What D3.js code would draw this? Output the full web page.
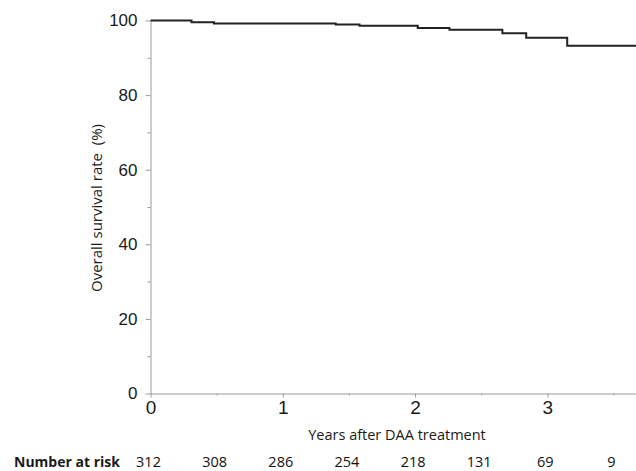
<!DOCTYPE html>
<html lang="en">
<head>
   <meta charset="utf-8">
   <title>Overall survival</title>
   <style type="text/css">
       body{
           margin: 0;
           background: white;
       }
       .axis path, .axis line{
           stroke: #9a9a9a;
           stroke-width: 1px;
       }
       .axis text{
           font-family: "Liberation Sans", Arial, sans-serif;
           fill: #1a1a1a;
       }
       .curve{
           fill: none;
           stroke: #222;
           stroke-width: 2px;
       }
       .label{
           font-family: "Open Sans", sans-serif;
           font-size: 14.5px;
           fill: #1a1a1a;
           white-space: pre;
       }
       .risk{
           font-family: "Open Sans", sans-serif;
           font-size: 14.5px;
           fill: #111;
           text-anchor: middle;
       }
   </style>
</head>
<body>
<script src="https://d3js.org/d3.v7.min.js" charset="utf-8"></script>
<script>
    // step times (years) and survival (%)
    var eventTimes = [0, 0.31, 0.48, 1.40, 1.58, 2.02, 2.26, 2.66, 2.84, 3.15]
    var survival = [100, 99.5, 99.2, 98.9, 98.6, 98.0, 97.5, 96.6, 95.4, 93.2]
    var lastTime = 3.7

    var xTicks = [0, 1, 2, 3]
    var xMinor = [0.5, 1.5, 2.5, 3.5]
    var yTicks = [0, 20, 40, 60, 80, 100]
    var yMinor = [10, 30, 50, 70, 90]

    var riskTimes = [0, 0.5, 1, 1.5, 2, 2.5, 3, 3.5]
    var riskCounts = [312, 308, 286, 254, 218, 131, 69, 9]

    var width = 636, height = 471

    var svg = d3.select('body')
        .append('svg')
            .attr('width', width)
            .attr('height', height)

    var x = d3.scaleLinear().domain([0, 3.67]).range([150.5, 636])
    var y = d3.scaleLinear().domain([0, 100]).range([393.5, 20.5])

    // y axis
    svg.append('g')
        .attr('class', 'axis')
        .attr('transform', 'translate(150.5,0)')
        .call(d3.axisLeft(y).tickValues(yMinor).tickSize(3).tickFormat(''))
        .call(function(g) { g.select('.domain').remove() })

    svg.append('g')
        .attr('class', 'axis')
        .attr('transform', 'translate(150.5,0)')
        .call(d3.axisLeft(y).tickValues(yTicks).tickSize(5).tickSizeOuter(0).tickPadding(8))
        .selectAll('text')
            .style('font-size', '17px')

    // x axis
    svg.append('g')
        .attr('class', 'axis')
        .attr('transform', 'translate(0,393.5)')
        .call(d3.axisBottom(x).tickValues(xMinor).tickSize(2).tickFormat(''))
        .call(function(g) { g.select('.domain').remove() })

    svg.append('g')
        .attr('class', 'axis')
        .attr('transform', 'translate(0,393.5)')
        .call(d3.axisBottom(x).tickValues(xTicks).tickSize(4).tickSizeOuter(0).tickPadding(3).tickFormat(d3.format('d')))
        .selectAll('text')
            .style('font-size', '19px')

    // survival step curve
    var pts = eventTimes.map(function(t, i) { return [t, survival[i]] })
    pts.push([lastTime, survival[survival.length - 1]])

    var line = d3.line()
        .x(function(d) { return x(d[0]) })
        .y(function(d) { return y(d[1]) })
        .curve(d3.curveStepAfter)

    svg.append('path')
        .datum(pts)
        .attr('class', 'curve')
        .attr('d', line)

    // axis titles
    svg.append('text')
        .attr('class', 'label')
        .attr('transform', 'translate(102,208) rotate(-90)')
        .attr('text-anchor', 'middle')
        .style('font-size', '15px')
        .text('Overall survival rate  (%)')

    svg.append('text')
        .attr('class', 'label')
        .attr('x', 397)
        .attr('y', 440)
        .attr('text-anchor', 'middle')
        .text('Years after DAA treatment')

    // number at risk row
    svg.append('text')
        .attr('class', 'label')
        .attr('x', 14)
        .attr('y', 467)
        .style('font-weight', 'bold')
        .style('font-size', '14px')
        .text('Number at risk')

    svg.append('g').selectAll('text')
        .data(riskCounts)
        .enter().append('text')
            .attr('class', 'risk')
            .attr('x', function(d, i) { return x(riskTimes[i]) - 2 })
            .attr('y', 467)
            .text(function(d) { return d })
</script>
</body>
</html>
